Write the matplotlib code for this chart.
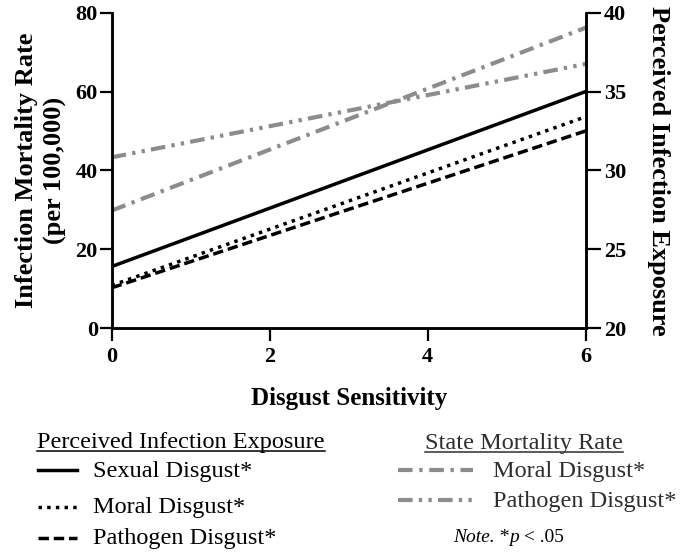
import matplotlib
matplotlib.use("Agg")
import matplotlib.pyplot as plt
from matplotlib.lines import Line2D
import numpy as np

# ---- data ----
x_vals = [0, 6]
# Perceived Infection Exposure (right axis)
pie_sexual = [23.9, 35.0]
pie_moral = [22.7, 33.4]
pie_pathogen = [22.55, 32.5]
# State Mortality Rate (left axis)
smr_moral = [29.8, 76.2]
smr_pathogen = [43.3, 67.0]

x_ticks = [0, 2, 4, 6]
left_ticks = [0, 20, 40, 60, 80]
right_ticks = [20, 25, 30, 35, 40]

W, H = 685, 557
SERIF = "Liberation Serif"
GRAY = "#8c8c8c"

fig = plt.figure(figsize=(W / 100, H / 100), dpi=100)
ax = fig.add_axes([111.7 / W, 1 - 328 / H, (585.7 - 111.7) / W, (328 - 12.7) / H])
ax2 = ax.twinx()

ls_dot = (0, (1, 1.5))
ls_dash = (0, (3, 1.4))
ls_dashdot = (0, (3.5, 1.6, 0.8, 1.6))
ls_dashdotdot = (0, (3.5, 1.5, 0.8, 1.5, 0.8, 1.5))

ax.plot(x_vals, smr_moral, color=GRAY, lw=3.0, ls=ls_dashdot)
ax.plot(x_vals, smr_pathogen, color=GRAY, lw=3.0, ls=ls_dashdotdot)
ax2.plot(x_vals, pie_sexual, color="black", lw=2.5, ls="-")
ax2.plot(x_vals, pie_moral, color="black", lw=2.5, ls=ls_dot)
ax2.plot(x_vals, pie_pathogen, color="black", lw=2.5, ls=ls_dash)

ax.set_xlim(0, 6)
ax.set_ylim(0, 80)
ax2.set_ylim(20, 40)
ax.set_xticks(x_ticks)
ax.set_yticks(left_ticks)
ax2.set_yticks(right_ticks)

for a in (ax, ax2):
    a.spines["top"].set_visible(False)
    for s in ("left", "right", "bottom"):
        a.spines[s].set_linewidth(1.8)
    a.tick_params(width=1.6, length=9, direction="out", labelsize=16)
    for lab in a.get_xticklabels() + a.get_yticklabels():
        lab.set_fontfamily(SERIF)
        lab.set_fontweight("bold")
ax.tick_params(axis="x", pad=5)
ax.tick_params(axis="y", pad=1)
ax2.tick_params(axis="y", length=11, pad=2)

ax.set_ylabel("Infection Mortality Rate\n(per 100,000)", fontsize=19, fontweight="bold",
              family=SERIF, labelpad=6, linespacing=1.3)
ax2.set_ylabel("Perceived Infection Exposure", fontsize=19, fontweight="bold",
               family=SERIF, rotation=270, labelpad=32)
ax.set_xlabel("Disgust Sensitivity", fontsize=18, fontweight="bold", family=SERIF, labelpad=14)


def fx(px):
    return px / W


def fy(py):
    return 1 - py / H


def legend_line(x0, x1, y, **kw):
    fig.add_artist(Line2D([fx(x0), fx(x1)], [fy(y), fy(y)], transform=fig.transFigure, **kw))


LFS = 17.5
# left block
t1 = fig.text(fx(37), fy(448), "Perceived Infection Exposure", fontsize=LFS, family=SERIF,
              va="baseline", ha="left")
legend_line(38, 77, 470, color="black", lw=2.5, ls="-")
fig.text(fx(93), fy(477), "Sexual Disgust*", fontsize=LFS, family=SERIF, va="baseline")
legend_line(38, 77, 507, color="black", lw=2.5, ls=ls_dot)
fig.text(fx(93), fy(513), "Moral Disgust*", fontsize=LFS, family=SERIF, va="baseline")
legend_line(38, 77, 538, color="black", lw=2.5, ls=ls_dash)
fig.text(fx(93), fy(544), "Pathogen Disgust*", fontsize=LFS, family=SERIF, va="baseline")

# right block
RC = "#2e2e2e"
t2 = fig.text(fx(425), fy(449), "State Mortality Rate", fontsize=LFS, family=SERIF,
              va="baseline", ha="left", color=RC)
legend_line(398, 473, 470, color=GRAY, lw=3.0, ls=ls_dashdot)
fig.text(fx(493), fy(477), "Moral Disgust*", fontsize=LFS, family=SERIF, va="baseline",
         color=RC)
legend_line(398, 473, 500, color=GRAY, lw=3.0, ls=ls_dashdotdot)
fig.text(fx(493), fy(507), "Pathogen Disgust*", fontsize=LFS, family=SERIF, va="baseline",
         color=RC)

# underlines
fig.canvas.draw()
renderer = fig.canvas.get_renderer()
for t, yb in ((t1, 448), (t2, 449)):
    bb = t.get_window_extent(renderer)
    fig.add_artist(Line2D([bb.x0 / W, bb.x1 / W], [fy(yb + 3), fy(yb + 3)],
                          transform=fig.transFigure, color=t.get_color(), lw=1.1))

# Note line with mixed italics
pieces = [("Note.", "italic"), (" *", "normal"), ("p", "italic"), (" < .05", "normal")]
xcur = 453
for s, style in pieces:
    tt = fig.text(fx(xcur), fy(542), s, fontsize=14, family=SERIF, style=style,
                  va="baseline", ha="left")
    bb = tt.get_window_extent(renderer)
    xcur += bb.width

fig.savefig("out.png", dpi=100)
